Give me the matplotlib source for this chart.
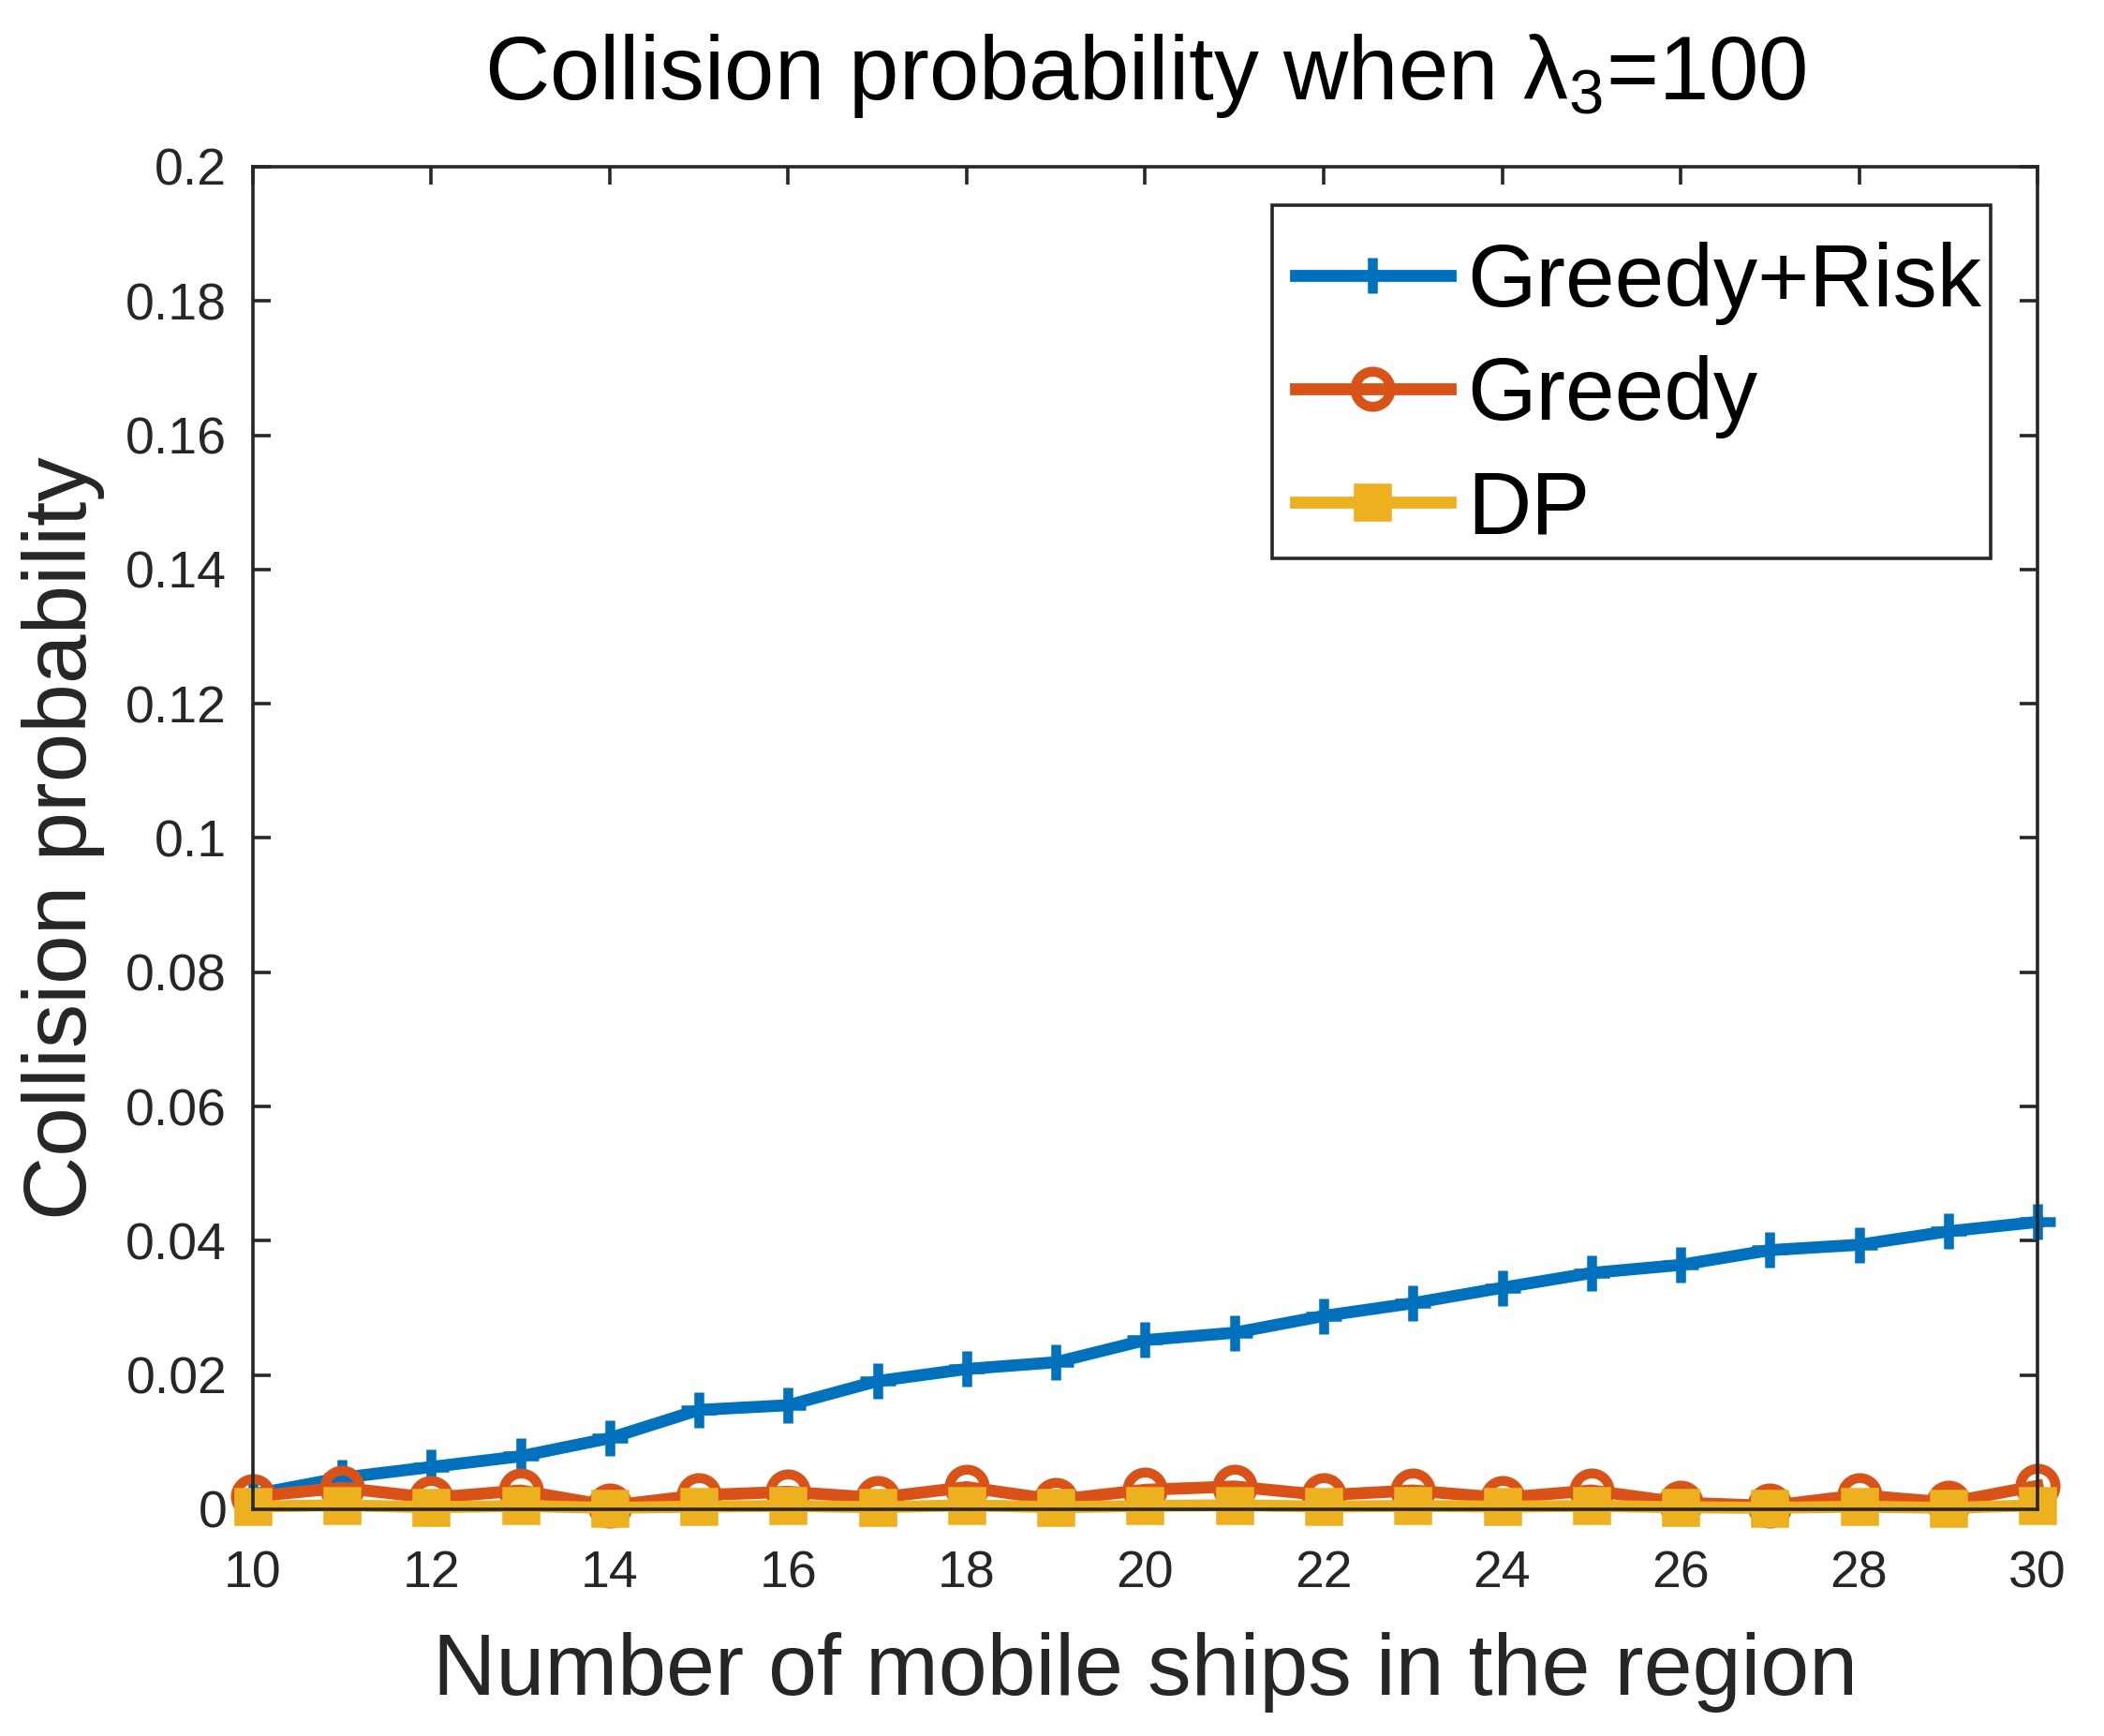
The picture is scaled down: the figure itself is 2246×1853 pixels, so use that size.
import numpy as np
import matplotlib
matplotlib.use('Agg')
import matplotlib.pyplot as plt
from matplotlib.patches import Rectangle
from matplotlib.ticker import FuncFormatter

plt.rcParams['font.family'] = ['Liberation Sans', 'DejaVu Sans']
plt.rcParams['mathtext.fontset'] = 'custom'
plt.rcParams['mathtext.rm'] = 'Liberation Sans'
plt.rcParams['mathtext.it'] = 'Liberation Sans:italic'

# data
ships = [10, 11, 12, 13, 14, 15, 16, 17, 18, 19, 20,
         21, 22, 23, 24, 25, 26, 27, 28, 29, 30]
greedy_risk = [0.0022, 0.0047, 0.0063, 0.0079, 0.0106, 0.0148, 0.0155, 0.0191, 0.0209, 0.0219, 0.0252,
               0.0263, 0.0288, 0.0307, 0.0330, 0.0352, 0.0364, 0.0386, 0.0394, 0.0414, 0.0428]
greedy = [0.0019, 0.0032, 0.0017, 0.0028, 0.0005, 0.0021, 0.0026, 0.0017, 0.0033, 0.0014, 0.0029,
          0.0034, 0.0021, 0.0028, 0.0017, 0.0028, 0.0010, 0.0005, 0.0021, 0.0010, 0.0035]
dp = [0.0004, 0.0006, 0.0003, 0.0005, 0.0002, 0.0004, 0.0005, 0.0003, 0.0006, 0.0003, 0.0005,
      0.0006, 0.0004, 0.0005, 0.0004, 0.0005, 0.0003, 0.0002, 0.0004, 0.0002, 0.0006]
labels = ['Greedy+Risk', 'Greedy', 'DP']

blue = '#0072BD'
orange = '#D95319'
yellow = '#EDB120'
dark = '#262626'

fig = plt.figure(figsize=(11.23, 9.265), dpi=200)
ax = fig.add_axes([0.1202, 0.1306, 0.8482, 0.7734])

lw = 4.6
ax.plot(ships, greedy_risk, color=blue, lw=lw, marker='+', ms=14, mew=3.8,
        label=labels[0], clip_on=False)
ax.plot(ships, greedy, color=orange, lw=lw, marker='o', ms=13.5, mew=3.8, mfc='none',
        label=labels[1], clip_on=False)
ax.plot(ships, dp, color=yellow, lw=lw, marker='s', ms=11, mew=3.8, mfc=yellow,
        label=labels[2], clip_on=False)

ax.set_xlim(10, 30)
ax.set_ylim(0, 0.2)
ax.set_xticks(np.arange(10, 31, 2))
ax.set_yticks(np.arange(0, 0.2001, 0.02))
ax.yaxis.set_major_formatter(FuncFormatter(lambda v, p: '%g' % round(v, 4)))

ax.tick_params(axis='both', direction='in', top=True, right=True, length=7, width=1.3,
               labelsize=20, colors=dark)
ax.tick_params(axis='x', pad=15.5)
ax.tick_params(axis='y', pad=10)
for s in ax.spines.values():
    s.set_linewidth(1.3)
    s.set_color(dark)

ax.set_xlabel('Number of mobile ships in the region', fontsize=33.6, color=dark, labelpad=13)
ax.set_ylabel('Collision probability', fontsize=34, color=dark, labelpad=8)
ax.set_title(r'Collision probability when $\mathrm{\lambda}_{3}$=100', fontsize=34.5, pad=26)

# MATLAB-style legend box: drawn separately, entries placed inside it
box = Rectangle((0.571, 0.708), 0.403, 0.263, transform=ax.transAxes, facecolor='white',
                edgecolor=dark, lw=1.3, zorder=5)
ax.add_patch(box)
leg = ax.legend(loc='upper left', bbox_to_anchor=(0.584, 0.944), borderaxespad=0,
                fontsize=34, handlelength=1.75, handletextpad=0.2, labelspacing=0.34,
                borderpad=0, frameon=False)
leg.set_zorder(6)

fig.savefig('out.png', dpi=200)
